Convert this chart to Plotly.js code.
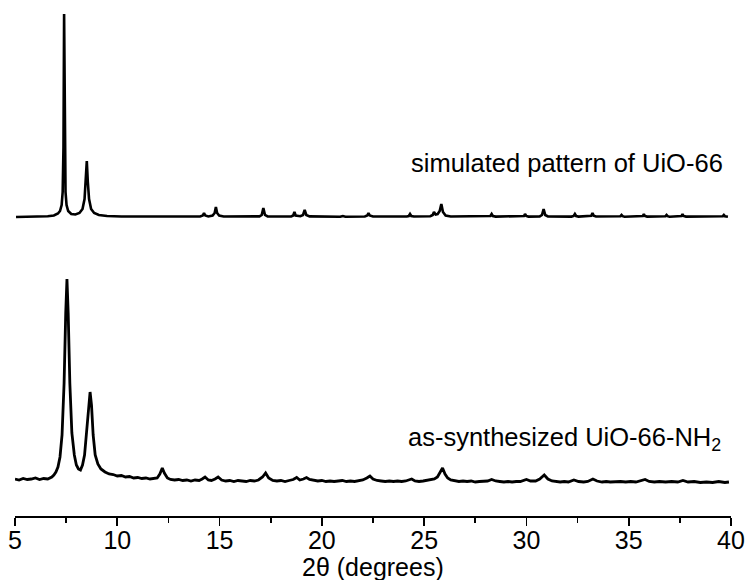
<!DOCTYPE html>
<html>
<head>
<meta charset="utf-8">
<script src="https://cdn.plot.ly/plotly-3.0.1.min.js"></script>
<style>html,body{margin:0;padding:0;background:#fff;}#chart{width:745px;height:580px;}</style>
</head>
<body>
<div id="chart"></div>
<script>
// ---- data (2θ in degrees, intensity in arbitrary units) ----
const simX = [5.05,6.0,6.6,6.9,7.1,7.2,7.28,7.33,7.37,7.40,7.43,7.47,7.52,7.6,7.75,7.95,8.15,8.3,8.4,8.46,8.51,8.56,8.62,8.72,8.87,9.1,9.5,10.2,11.9,12.06,12.2,
  14.05,14.18,14.24,14.30,14.45,14.66,14.76,14.82,14.88,14.98,15.2,16.95,17.06,17.14,17.22,17.35,18.5,18.6,18.66,18.72,18.95,19.08,19.16,19.24,19.4,
  20.9,21.03,21.15,22.1,22.22,22.28,22.34,22.5,24.15,24.25,24.31,24.37,24.5,25.3,25.42,25.48,25.56,25.66,25.76,25.84,25.92,26.05,26.3,
  28.15,28.24,28.30,28.36,28.5,29.8,29.88,29.93,29.99,30.1,30.65,30.76,30.84,30.92,31.05,32.2,32.31,32.37,32.43,32.55,33.07,33.17,33.23,33.29,33.4,
  34.5,34.6,34.65,34.7,34.8,35.6,35.69,35.74,35.79,35.9,36.7,36.8,36.85,36.9,37.0,37.5,37.58,37.63,37.68,37.8,39.5,39.6,39.65,39.7,39.85];
const simI = [0,0.3,0.8,1.5,3.5,6,12,25,70,203,70,25,12,6,3,2.5,4,8,18,35,56,35,18,8,4,2,1,0.5,0.3,1,0.3,
  0.5,1.5,4,1.5,0.6,1.5,4,10,4,1.5,0.5,0.6,2,9,2,0.6,0.5,1.5,5,1.5,0.8,2,7,2,0.6,
  0.3,1,0.3,0.5,1.5,4,1.5,0.5,0.5,1,3,1,0.5,0.8,2,5,2.5,3,6,13,5,1.5,0.5,
  0.5,1,3,1,0.4,0.4,1,3,1,0.4,0.6,2,8,2,0.6,0.4,1,3,1,0.4,0.5,1.2,4,1.2,0.5,
  0.3,0.8,2,0.8,0.3,0.4,1,3,1,0.4,0.3,0.8,2,0.8,0.3,0.4,1,3,1,0.4,0.3,0.8,2,0.8,0.3];

const synX = [5.0,5.2,5.4,5.6,5.8,6.0,6.2,6.4,6.6,6.8,6.9,7.0,7.1,7.2,7.3,7.4,7.48,7.54,7.60,7.68,7.78,7.9,8.0,8.1,8.2,8.3,8.4,8.5,8.6,8.67,8.74,8.82,8.92,9.05,9.2,9.4,9.6,9.8,
  10.0,10.2,10.4,10.6,10.8,11.0,11.2,11.4,11.6,11.8,11.95,12.08,12.2,12.3,12.45,12.6,12.8,13.0,13.2,13.4,13.6,13.8,14.0,14.15,14.29,14.45,14.6,14.78,14.93,
  15.1,15.3,15.5,15.7,15.9,16.1,16.3,16.5,16.7,16.9,17.1,17.25,17.4,17.6,17.8,18.0,18.2,18.4,18.6,18.77,18.92,19.1,19.25,19.4,19.6,19.8,
  20.0,20.2,20.4,20.6,20.8,21.0,21.2,21.4,21.6,21.8,22.0,22.2,22.35,22.5,22.7,22.9,23.1,23.3,23.5,23.7,23.9,24.1,24.25,24.39,24.55,24.75,24.95,
  25.15,25.35,25.5,25.65,25.78,25.9,26.02,26.15,26.3,26.5,26.7,26.9,27.1,27.3,27.5,27.7,27.9,28.1,28.3,28.5,28.7,28.9,29.1,29.3,29.5,29.7,
  30.0,30.2,30.45,30.65,30.87,31.05,31.25,31.45,31.65,31.85,32.05,32.32,32.55,32.8,33.0,33.25,33.45,33.7,33.9,34.1,34.3,34.6,34.85,
  35.1,35.35,35.6,35.8,36.0,36.25,36.5,36.8,37.1,37.4,37.65,37.9,38.2,38.5,38.8,39.1,39.4,39.7,39.9];
const synI = [4,3,4.5,3.5,4,5,3.5,4.5,4,6,8,11,16,26,48,100,170,204,170,100,50,28,18,14,13,18,28,50,80,91,78,48,28,19,14,11,9,8.5,
  7,7.5,6,6.5,5,5.5,4.5,5,4,4.5,5,9,15,10,5,3.5,3,3.5,2.5,3,2,3,2.5,4,6,3,2.5,4,6,
  3,2,2.5,1.5,2.5,2,1.5,2.5,2,3,6,10,5,2.5,2,2.5,1.5,2.5,3.5,5.5,3,4,5.5,3.5,2.5,2,
  2.5,1.5,2,1.5,2,2.5,1.5,2,1.5,2.5,3,5,7,4,2.5,2,1.5,2,1.5,2,1.5,2,3,4,2,1.5,2,
  2.5,3,4,6,11,15,9,5,3,2,1.5,2,1.5,2,1,1.5,2,2,3.5,2,1.5,1,1.5,1,1.5,1.5,
  3.5,2,2,4,8,4,2,1.5,1,1.5,1,3,1.5,1,1.5,4,2,1,1.5,1,1.5,1.5,1,
  1.5,1,2,3.5,1.5,1,1.5,1,1.5,1,2.5,1,1.5,0.5,1,0.5,1.5,0.5,1];

const tickVals = [5,10,15,20,25,30,35,40];
const tickText = ["5","10","15","20","25","30","35","40"];
const simLabel = "simulated pattern of UiO-66";
const synLabel = "as-synthesized UiO-66-NH<sub>2</sub>";
const xTitle = "2\u03B8 (degrees)";

// ---- vertical stacking offsets (layout) ----
const simOffset = 299;
const synOffset = 33;

const FONT = "Liberation Sans, Arial, Helvetica, sans-serif";

const traces = [
  {x: simX, y: simI.map(v => v + simOffset), mode: "lines", type: "scatter",
   line: {color: "#000", width: 2.6}, hoverinfo: "skip", showlegend: false},
  {x: synX, y: synI.map(v => v + synOffset), mode: "lines", type: "scatter",
   line: {color: "#000", width: 2.8}, hoverinfo: "skip", showlegend: false}
];

const layout = {
  width: 745, height: 580,
  margin: {l: 15, r: 14, t: 5, b: 64},
  paper_bgcolor: "#fff", plot_bgcolor: "#fff",
  showlegend: false,
  font: {family: FONT, color: "#000"},
  xaxis: {
    range: [5, 40], showgrid: false, zeroline: false, automargin: false,
    showline: true, linecolor: "#000", linewidth: 1.6,
    tickmode: "array", tickvals: tickVals, ticktext: tickText,
    ticklabeloverflow: "allow", ticklabelstandoff: -7,
    ticks: "outside", ticklen: 8, tickwidth: 1.6, tickcolor: "#000",
    minor: {tickmode: "linear", tick0: 5, dtick: 2.5, ticks: "outside", ticklen: 5, tickwidth: 1.6, tickcolor: "#000"},
    tickfont: {family: FONT, size: 25, color: "#000"}
  },
  yaxis: {range: [0, 511], visible: false, fixedrange: true},
  annotations: [
    {x: 39.72, y: 353, xref: "x", yref: "y", text: simLabel, showarrow: false,
     xanchor: "right", yanchor: "middle", font: {family: FONT, size: 25.5, color: "#000"}},
    {x: 39.62, y: 77, xref: "x", yref: "y", text: synLabel, showarrow: false,
     xanchor: "right", yanchor: "middle", font: {family: FONT, size: 25.5, color: "#000"}},
    {x: 0.5, y: -0.1, xref: "paper", yref: "paper", text: xTitle, showarrow: false,
     xanchor: "center", yanchor: "middle", font: {family: FONT, size: 25, color: "#000"}}
  ]
};

Plotly.newPlot("chart", traces, layout, {staticPlot: true, displayModeBar: false});
</script>
</body>
</html>
